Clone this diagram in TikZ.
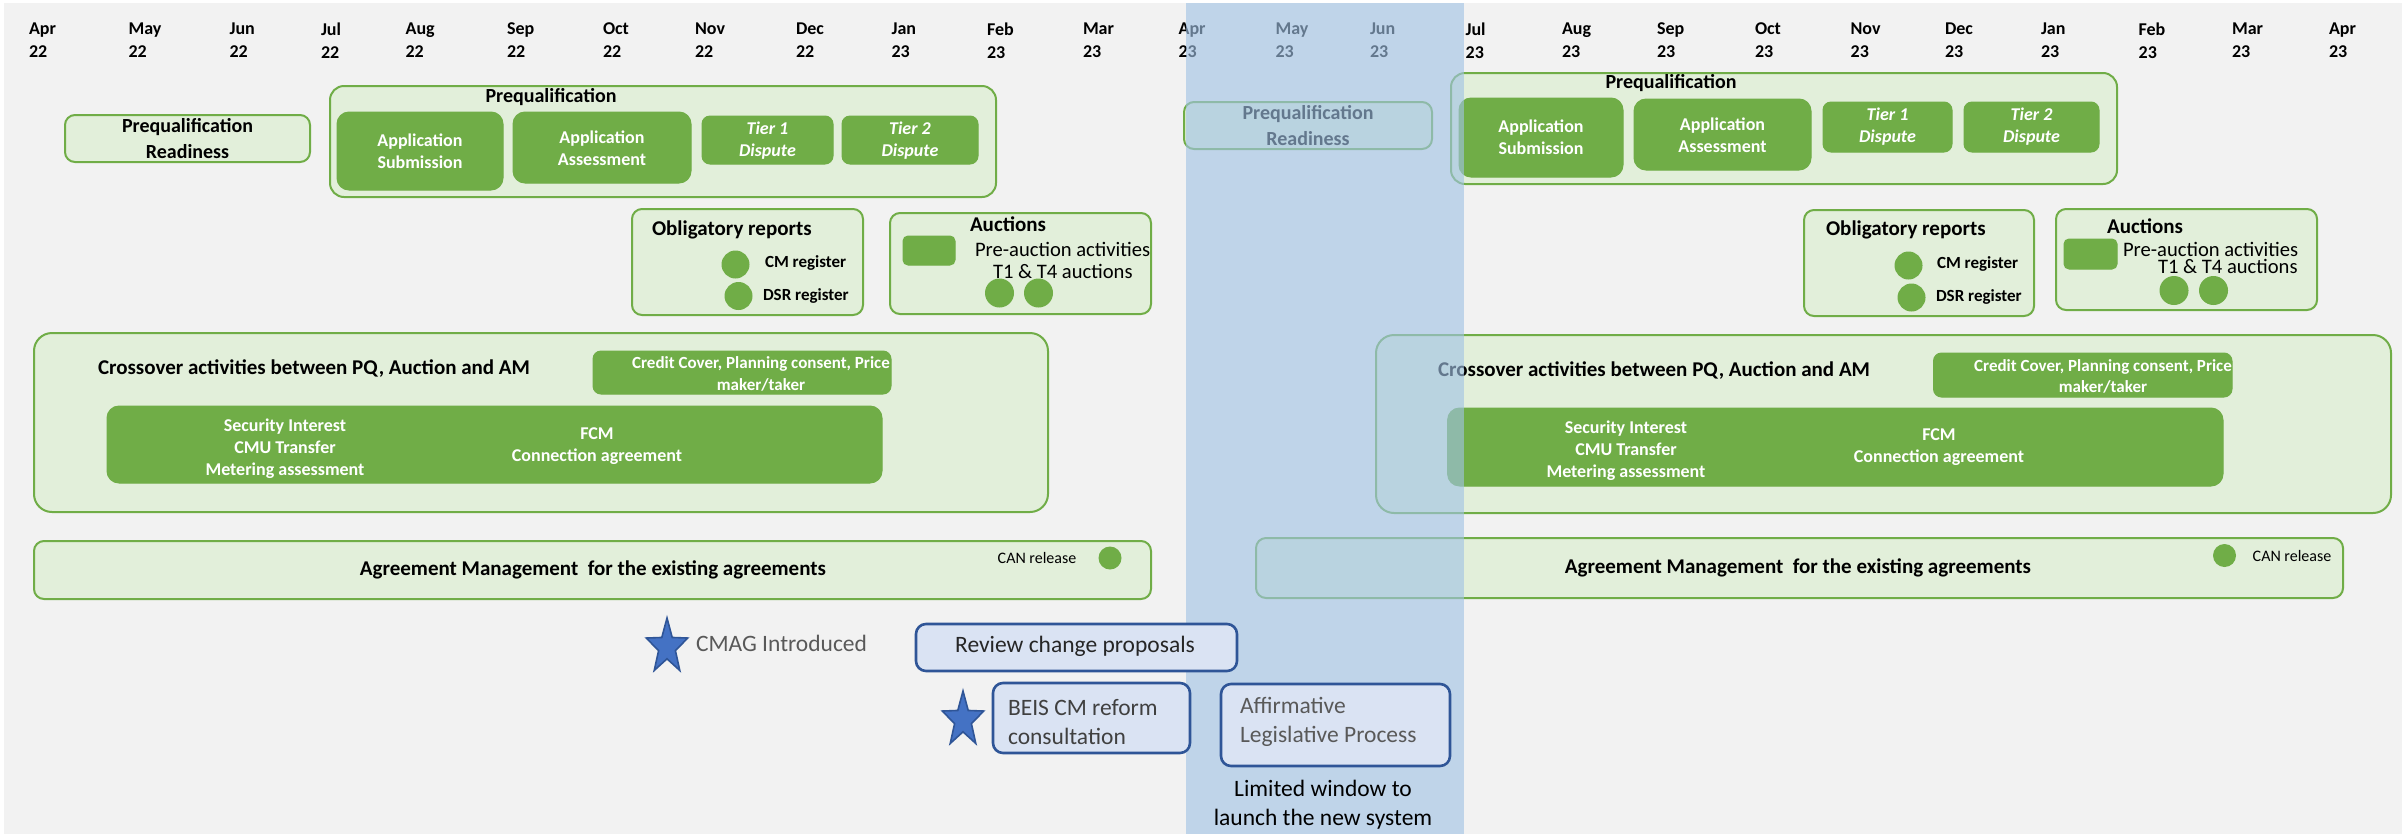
\documentclass[tikz,border=0pt]{standalone}
\usepackage{fontspec}
\setmainfont{Carlito}
\usetikzlibrary{fit}
\definecolor{gD}{RGB}{112,173,71}
\definecolor{gL}{RGB}{226,239,218}
\definecolor{bgG}{RGB}{242,242,242}
\definecolor{bandc}{RGB}{161,194,229}
\definecolor{bL}{RGB}{218,227,243}
\definecolor{bD}{RGB}{47,85,151}
\definecolor{bM}{RGB}{68,114,196}
\definecolor{tG}{RGB}{89,89,89}
\definecolor{tD}{RGB}{64,64,64}
\begin{document}
\begin{tikzpicture}[x=0.5pt,y=-0.5pt,
  every node/.style={inner sep=0pt, outer sep=0pt},
  lbox/.style={draw=gD, fill=gL, line width=1pt, rounded corners=5pt, inner sep=0pt},
  dbox/.style={draw=gD, fill=gD, line width=0.5pt, rounded corners=4pt, inner sep=0pt},
  bbox/.style={draw=bD, fill=bL, line width=1.3pt, rounded corners=5pt, inner sep=0pt},
  month/.style={anchor=west, align=left, font=\fontsize{9}{11.5}\selectfont\bfseries},
  ttl/.style={font=\fontsize{10}{13}\selectfont\bfseries, align=center},
  ttlb/.style={font=\fontsize{10.5}{13}\selectfont\bfseries, text height=0.64em, text depth=0pt},
  wtxt/.style={text=white, font=\fontsize{9}{11}\selectfont\bfseries, align=center},
  wit/.style={text=white, font=\fontsize{9}{11}\selectfont\bfseries\itshape, align=center},
  wsm/.style={text=white, font=\fontsize{8.5}{10.8}\selectfont\bfseries, align=center},
  sm/.style={font=\fontsize{8.5}{10}\selectfont\bfseries, text height=0.64em, text depth=0pt},
  reg/.style={font=\fontsize{10.3}{12}\selectfont, text height=0.64em, text depth=0pt},
  can/.style={font=\fontsize{8}{10}\selectfont, text height=0.64em, text depth=0pt},
  dot/.style={circle, fill=gD, inner sep=0pt, minimum size=14pt},
  btxt/.style={font=\fontsize{11.75}{14.5}\selectfont},
  bstar/.pic={\draw[fill=bM, draw=bD, line width=0.8pt, xscale=0.75, yscale=-1]
     (90:29) -- (126:11.8) -- (162:29) -- (198:11.8) -- (234:29) -- (270:11.8)
     -- (306:29) -- (342:11.8) -- (18:29) -- (54:11.8) -- cycle;}
]
\useasboundingbox (0,0) rectangle (2407,836);
\fill[white] (0,0) rectangle (2407,836);
\node[fit={(4,3) (2402,834)}, fill=bgG, inner sep=0pt] (bg) {};

% month labels
\foreach \x/\m/\yy [count=\i] in {29/Apr/22, 128.6/May/22, 229.6/Jun/22, 321/Jul/22, 405.6/Aug/22,
   507/Sep/22, 603/Oct/22, 695/Nov/22, 796/Dec/22, 891.6/Jan/23, 987/Feb/23, 1083/Mar/23,
   1178.6/Apr/23, 1275.5/May/23, 1370/Jun/23, 1465.6/Jul/23, 1562/Aug/23, 1657/Sep/23,
   1755/Oct/23, 1850.6/Nov/23, 1945/Dec/23, 2041/Jan/23, 2138.6/Feb/23, 2232/Mar/23, 2329/Apr/23}
  \node[month] (mon\i) at (\x,40.5) {\m\\\yy};

% ---------- left half ----------
\node[lbox, fit={(65,115) (310,162)}] (prL) {};
\node[ttl] (prLt) at (187.5,139) {Prequalification\\Readiness};

\node[lbox, rounded corners=7pt, fit={(330,86) (996,197)}] (pqL) {};
\node[ttl] (pqLt) at (551,97) {Prequalification};
\node[dbox, rounded corners=6pt, fit={(337,112) (503,190)}] (asL) {};
\node[wtxt] (asLt) at (asL.center) {Application\\Submission};
\node[dbox, rounded corners=6pt, fit={(513,112) (691,183)}] (aaL) {};
\node[wtxt] (aaLt) at (602,148.5) {Application\\Assessment};
\node[dbox, fit={(702,116) (833,164)}] (t1L) {};
\node[wit] (t1Lt) at (767.5,141) {Tier 1\\Dispute};
\node[dbox, fit={(842,116) (978,164)}] (t2L) {};
\node[wit] (t2Lt) at (910,141) {Tier 2\\Dispute};

\node[lbox, fit={(632,209) (863,315)}] (obL) {};
\node[ttlb, anchor=west] (obLt) at (652,229) {Obligatory reports};
\node[dot] (cmL) at (735.5,264.5) {};
\node[sm, anchor=west] (cmLt) at (765,261) {CM register};
\node[dot] (dsrL) at (738.5,296) {};
\node[sm, anchor=west] (dsrLt) at (763,294) {DSR register};

\node[lbox, fit={(890,213) (1151,314)}] (auL) {};
\node[ttlb, anchor=west] (auLt) at (970,225) {Auctions};
\node[dbox, rounded corners=2.5pt, fit={(903,236) (955,265)}] (sqL) {};
\node[reg, anchor=west] (paL) at (975,250) {Pre-auction activities};
\node[reg, anchor=west] (t14L) at (993,272) {T1 \& T4 auctions};
\node[dot, minimum size=14.5pt] (a1L) at (999.5,293) {};
\node[dot, minimum size=14.5pt] (a2L) at (1038.5,293) {};

\node[lbox, rounded corners=9pt, fit={(34,333) (1048,512)}] (coL) {};
\node[ttlb, anchor=west] (coLt) at (98,368) {Crossover activities between PQ, Auction and AM};
\node[dbox, fit={(593,351) (891,394)}] (ccL) {};
\node[wsm] (ccLt) at (761,374) {Credit Cover, Planning consent, Price\\maker/taker};
\node[dbox, rounded corners=6pt, fit={(107,406) (882,483)}] (bigL) {};
\node[wtxt] (siL) at (285,449) {Security Interest\\CMU Transfer\\Metering assessment};
\node[wtxt] (fcmL) at (597,446.5) {FCM\\Connection agreement};

\node[lbox, fit={(34,541) (1151,599)}] (amL) {};
\node[ttlb] (amLt) at (593,569) {Agreement Management~ for the existing agreements};
\node[can] (canLt) at (1037,557) {CAN release};
\node[dot, minimum size=11.5pt] (canL) at (1110,558) {};

% ---------- right half ----------
\node[lbox, fit={(1184,102) (1432,149)}] (prR) {};
\node[ttl] (prRt) at (1308,126) {Prequalification\\Readiness};

\node[lbox, rounded corners=7pt, fit={(1451,73) (2117,184)}] (pqR) {};
\node[ttl] (pqRt) at (1671,83) {Prequalification};
\node[dbox, rounded corners=6pt, fit={(1459,98) (1623,177)}] (asR) {};
\node[wtxt] (asRt) at (asR.center) {Application\\Submission};
\node[dbox, rounded corners=6pt, fit={(1634,99) (1811,170)}] (aaR) {};
\node[wtxt] (aaRt) at (1722.5,135) {Application\\Assessment};
\node[dbox, fit={(1823,102) (1952,152)}] (t1R) {};
\node[wit] (t1Rt) at (1887.5,127) {Tier 1\\Dispute};
\node[dbox, fit={(1964,102) (2099,152)}] (t2R) {};
\node[wit] (t2Rt) at (2031.5,127) {Tier 2\\Dispute};

\node[lbox, fit={(1804,210) (2034,316)}] (obR) {};
\node[ttlb, anchor=west] (obRt) at (1826,229) {Obligatory reports};
\node[dot] (cmR) at (1908.5,265.5) {};
\node[sm, anchor=west] (cmRt) at (1937,262) {CM register};
\node[dot] (dsrR) at (1911.5,297.5) {};
\node[sm, anchor=west] (dsrRt) at (1936,295) {DSR register};

\node[lbox, fit={(2056,209) (2317,310)}] (auR) {};
\node[ttlb, anchor=west] (auRt) at (2107,227) {Auctions};
\node[dbox, rounded corners=2.5pt, fit={(2064,239) (2117,269)}] (sqR) {};
\node[reg, anchor=west] (paR) at (2123,250) {Pre-auction activities};
\node[reg, anchor=west] (t14R) at (2158,267) {T1 \& T4 auctions};
\node[dot, minimum size=14.5pt] (a1R) at (2174,290.5) {};
\node[dot, minimum size=14.5pt] (a2R) at (2213.5,290.5) {};

\node[lbox, rounded corners=9pt, fit={(1376,335) (2391,513)}] (coR) {};
\node[ttlb, anchor=west] (coRt) at (1438,370) {Crossover activities between PQ, Auction and AM};
\node[dbox, fit={(1933.5,353) (2232,397)}] (ccR) {};
\node[wsm] (ccRt) at (2103,376.5) {Credit Cover, Planning consent, Price\\maker/taker};
\node[dbox, rounded corners=6pt, fit={(1447.6,408) (2223,486)}] (bigR) {};
\node[wtxt] (siR) at (1626,451) {Security Interest\\CMU Transfer\\Metering assessment};
\node[wtxt] (fcmR) at (1939,447.5) {FCM\\Connection agreement};

\node[lbox, fit={(1256,538) (2343,598)}] (amR) {};
\node[ttlb] (amRt) at (1798,567) {Agreement Management~ for the existing agreements};
\node[dot, minimum size=11.5pt] (canR) at (2224.5,555.5) {};
\node[can] (canRt) at (2292,555) {CAN release};

% ---------- launch window band ----------
\node[fit={(1186,3) (1464,834)}, fill=bandc, fill opacity=0.62, inner sep=0pt] (band) {};

% ---------- blue items ----------
\pic at (667,647) {bstar};
\node[btxt, anchor=west, text=tG, text height=0.64em, text depth=0pt] (cmag) at (696,645) {CMAG Introduced};
\node[bbox, fit={(916,624) (1237,671)}] (rev) {};
\node[btxt, text=black!85, text height=0.64em, text depth=0pt] (revt) at (1075,646) {Review change proposals};
\pic at (963,720) {bstar};
\node[bbox, fit={(993,683) (1190,753)}] (beis) {};
\node[btxt, align=left, anchor=west, text=tD] (beist) at (1008,722) {BEIS CM reform\\consultation};
\node[bbox, fit={(1221,684) (1450,766)}] (aff) {};
\node[btxt, align=left, anchor=west, text=tG] (afft) at (1240,722) {Affirmative\\Legislative Process};
\node[btxt, align=center] (lim) at (1323,805) {Limited window to\\launch the new system};
\end{tikzpicture}
\end{document}
